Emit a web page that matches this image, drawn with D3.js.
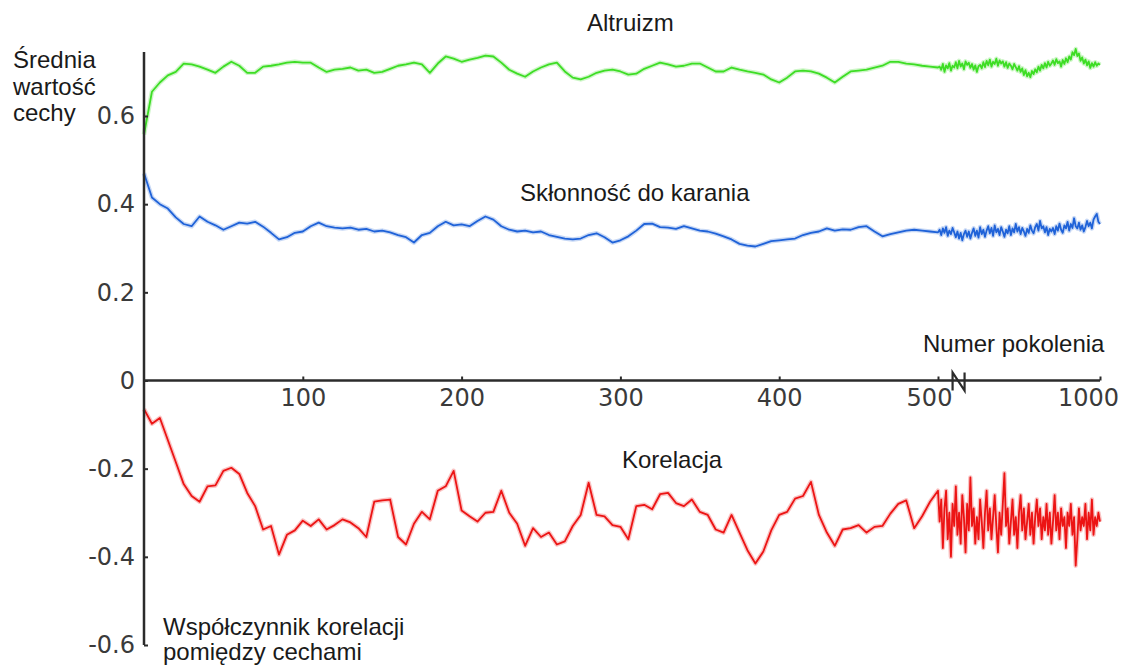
<!DOCTYPE html>
<html><head><meta charset="utf-8">
<script src="https://cdn.jsdelivr.net/npm/d3@7/dist/d3.min.js"></script>
<style>
html,body{margin:0;padding:0;background:#fff;}
svg{display:block;}
text{font-family:"Liberation Sans",Arial,sans-serif;fill:#1a1a1a;}
.tick text{font-family:"DejaVu Sans","Liberation Sans",sans-serif;fill:#3a3a3a;}
</style>
</head><body>
<svg id="chart" width="1131" height="668"></svg>
<script>
// ---- Data (generation steps of 5, 0..1000) ----
const generations = d3.range(0, 1001, 5);

const altruizm = [
0.558,0.655,0.676,0.692,0.700,0.719,0.717,0.712,0.705,0.698,
0.712,0.723,0.714,0.698,0.698,0.712,0.714,0.717,0.721,0.723,
0.721,0.721,0.710,0.700,0.705,0.707,0.710,0.703,0.705,0.698,
0.700,0.707,0.714,0.717,0.721,0.717,0.698,0.719,0.735,0.730,
0.723,0.728,0.732,0.737,0.735,0.721,0.705,0.696,0.689,0.701,
0.710,0.717,0.721,0.701,0.687,0.683,0.689,0.698,0.703,0.705,
0.701,0.694,0.696,0.707,0.714,0.721,0.717,0.712,0.714,0.719,
0.719,0.710,0.701,0.701,0.710,0.705,0.701,0.698,0.694,0.683,
0.676,0.687,0.701,0.703,0.701,0.696,0.687,0.676,0.689,0.701,
0.703,0.705,0.710,0.714,0.723,0.723,0.719,0.717,0.714,0.712,
0.710,
0.712,0.705,0.718,0.700,0.715,0.708,0.720,0.703,0.714,0.710,
0.722,0.708,0.725,0.712,0.719,0.706,0.724,0.716,0.721,0.709,
0.718,0.705,0.715,0.700,0.713,0.716,0.708,0.722,0.711,0.725,
0.715,0.728,0.712,0.723,0.718,0.730,0.714,0.726,0.719,0.724,
0.712,0.722,0.709,0.719,0.714,0.706,0.718,0.711,0.703,0.713,
0.700,0.708,0.693,0.704,0.690,0.698,0.688,0.702,0.695,0.706,
0.699,0.712,0.703,0.716,0.708,0.720,0.710,0.723,0.714,0.719,
0.726,0.716,0.729,0.720,0.724,0.712,0.727,0.718,0.731,0.722,
0.735,0.728,0.745,0.738,0.752,0.736,0.742,0.725,0.733,0.719,
0.728,0.715,0.724,0.709,0.720,0.712,0.722,0.714,0.719,0.716
];

const sklonnosc = [
0.470,0.415,0.400,0.390,0.370,0.355,0.350,0.372,0.360,0.352,
0.342,0.350,0.358,0.356,0.360,0.349,0.335,0.320,0.325,0.335,
0.338,0.350,0.358,0.350,0.347,0.345,0.347,0.342,0.344,0.338,
0.340,0.336,0.330,0.325,0.313,0.330,0.335,0.350,0.360,0.352,
0.354,0.350,0.362,0.372,0.365,0.350,0.342,0.338,0.340,0.336,
0.338,0.330,0.326,0.322,0.320,0.322,0.330,0.334,0.325,0.313,
0.318,0.327,0.340,0.355,0.356,0.348,0.347,0.344,0.350,0.345,
0.340,0.338,0.333,0.327,0.320,0.310,0.306,0.304,0.310,0.316,
0.318,0.320,0.322,0.330,0.335,0.338,0.345,0.340,0.343,0.342,
0.348,0.350,0.338,0.327,0.332,0.336,0.340,0.342,0.340,0.338,
0.336,
0.342,0.330,0.345,0.335,0.348,0.328,0.340,0.332,0.346,0.336,
0.325,0.338,0.322,0.335,0.318,0.332,0.340,0.326,0.338,0.322,
0.335,0.345,0.328,0.340,0.324,0.348,0.332,0.342,0.326,0.340,
0.350,0.334,0.346,0.328,0.352,0.336,0.344,0.330,0.348,0.338,
0.326,0.342,0.334,0.350,0.330,0.345,0.336,0.355,0.338,0.348,
0.332,0.346,0.338,0.328,0.344,0.335,0.352,0.340,0.334,0.348,
0.355,0.340,0.362,0.345,0.350,0.336,0.348,0.330,0.344,0.338,
0.346,0.332,0.350,0.340,0.356,0.342,0.335,0.352,0.345,0.360,
0.340,0.355,0.346,0.368,0.350,0.345,0.358,0.342,0.352,0.338,
0.348,0.362,0.350,0.358,0.345,0.365,0.372,0.378,0.360,0.355
];

const korelacja = [
-0.065,-0.098,-0.085,-0.135,-0.185,-0.235,-0.262,-0.275,-0.240,-0.238,
-0.205,-0.198,-0.212,-0.255,-0.285,-0.338,-0.330,-0.395,-0.350,-0.340,
-0.318,-0.330,-0.315,-0.338,-0.328,-0.315,-0.322,-0.335,-0.355,-0.275,
-0.272,-0.270,-0.355,-0.372,-0.325,-0.298,-0.315,-0.250,-0.240,-0.205,
-0.295,-0.308,-0.320,-0.300,-0.298,-0.250,-0.300,-0.325,-0.375,-0.335,
-0.355,-0.345,-0.372,-0.365,-0.330,-0.305,-0.232,-0.305,-0.308,-0.328,
-0.332,-0.360,-0.285,-0.282,-0.292,-0.258,-0.255,-0.278,-0.285,-0.270,
-0.298,-0.305,-0.338,-0.345,-0.305,-0.345,-0.385,-0.415,-0.388,-0.340,
-0.305,-0.298,-0.268,-0.262,-0.230,-0.305,-0.345,-0.375,-0.338,-0.335,
-0.328,-0.345,-0.332,-0.330,-0.302,-0.280,-0.272,-0.335,-0.308,-0.275,
-0.250,
-0.32,-0.27,-0.38,-0.29,-0.25,-0.36,-0.30,-0.40,-0.28,-0.33,
-0.24,-0.35,-0.30,-0.37,-0.26,-0.31,-0.39,-0.28,-0.34,-0.22,
-0.33,-0.29,-0.37,-0.31,-0.36,-0.27,-0.32,-0.38,-0.30,-0.25,
-0.34,-0.29,-0.36,-0.31,-0.26,-0.33,-0.39,-0.30,-0.35,-0.28,
-0.21,-0.33,-0.29,-0.37,-0.32,-0.27,-0.35,-0.31,-0.38,-0.30,
-0.26,-0.34,-0.29,-0.36,-0.32,-0.28,-0.35,-0.30,-0.37,-0.31,
-0.27,-0.33,-0.29,-0.36,-0.31,-0.34,-0.28,-0.35,-0.30,-0.37,
-0.32,-0.26,-0.34,-0.30,-0.36,-0.29,-0.33,-0.31,-0.38,-0.30,
-0.33,-0.28,-0.35,-0.31,-0.42,-0.36,-0.29,-0.34,-0.31,-0.33,
-0.28,-0.36,-0.30,-0.34,-0.27,-0.35,-0.31,-0.33,-0.30,-0.32
];

const xTickValues = [100, 200, 300, 400, 500, 1000];
const xTickLabels = ["100", "200", "300", "400", "500", "1000"];
const yTickValues = [-0.6, -0.4, -0.2, 0, 0.2, 0.4, 0.6];
const yTickLabels = ["-0.6", "-0.4", "-0.2", "0", "0.2", "0.4", "0.6"];

// ---- Drawing ----
const svg = d3.select("#chart");
// broken x axis: 0..500 linear, 500..1000 compressed
const x = d3.scaleLinear().domain([0, 500, 1000]).range([144, 938, 1100]);
const y = d3.scaleLinear().domain([-0.6, 0.6]).range([645, 116]);
const axisColor = "#2b2b2b";

const line = d3.line().x((d, i) => x(generations[i])).y(d => y(d));

const series = [
  {values: altruizm, color: "#3ddd24"},
  {values: sklonnosc, color: "#1f62d8"},
  {values: korelacja, color: "#ec1414"}
];
series.forEach(s => {
  svg.append("path").datum(s.values).attr("d", line)
    .attr("fill", "none").attr("stroke", s.color).attr("stroke-opacity", 0.25)
    .attr("stroke-width", 4.5).attr("stroke-linejoin", "round");
  svg.append("path").datum(s.values).attr("d", line)
    .attr("fill", "none").attr("stroke", s.color)
    .attr("stroke-width", 1.8).attr("stroke-linejoin", "round");
});

// y axis
const yAxis = d3.axisLeft(y).tickValues(yTickValues)
  .tickFormat((d, i) => yTickLabels[i]).tickSize(-4).tickPadding(9);
const gy = svg.append("g").attr("transform", `translate(${x(0)},0)`).call(yAxis);
gy.select(".domain").remove();
gy.selectAll(".tick line").attr("stroke", axisColor).attr("stroke-width", 2);
gy.selectAll(".tick text").attr("font-size", 24).attr("font-family", null).attr("fill", "#3a3a3a");
svg.append("line").attr("x1", x(0)).attr("x2", x(0))
  .attr("y1", y(-0.6)).attr("y2", y(0.745))
  .attr("stroke", axisColor).attr("stroke-width", 2.5);

// x axis
const xAxis = d3.axisBottom(x).tickValues(xTickValues)
  .tickFormat((d, i) => xTickLabels[i]).tickSize(-4).tickPadding(8);
const gx = svg.append("g").attr("transform", `translate(0,${y(0)})`).call(xAxis);
gx.select(".domain").remove();
gx.selectAll(".tick line").attr("stroke", axisColor).attr("stroke-width", 2);
gx.selectAll(".tick text").attr("font-size", 24).attr("font-family", null).attr("fill", "#3a3a3a")
  .attr("dx", d => d === 500 ? -9 : (d === 1000 ? -12 : 0));
svg.append("line").attr("x1", x(0)).attr("x2", x(1000))
  .attr("y1", y(0)).attr("y2", y(0))
  .attr("stroke", axisColor).attr("stroke-width", 2.5);
// axis break mark (N-shaped zig-zag)
const bx1 = x(545), bx2 = x(582), by = y(0);
svg.append("path")
  .attr("d", `M${bx1},${by + 10} L${bx1},${by - 8} L${bx2},${by + 10} L${bx2},${by - 8}`)
  .attr("fill", "none").attr("stroke", axisColor).attr("stroke-width", 2.2);

// labels
const lbl = (t, xx, yy, anchor) => svg.append("text").attr("x", xx).attr("y", yy)
  .attr("font-size", 24).attr("text-anchor", anchor || "start").text(t);
lbl("Altruizm", 587, 31);
lbl("Średnia", 13, 68);
lbl("wartość", 13, 95);
lbl("cechy", 13, 121);
lbl("Skłonność do karania", 520, 201);
lbl("Numer pokolenia", 923, 352);
lbl("Korelacja", 622, 468);
lbl("Współczynnik korelacji", 163, 635);
lbl("pomiędzy cechami", 163, 660);
</script>
</body></html>
